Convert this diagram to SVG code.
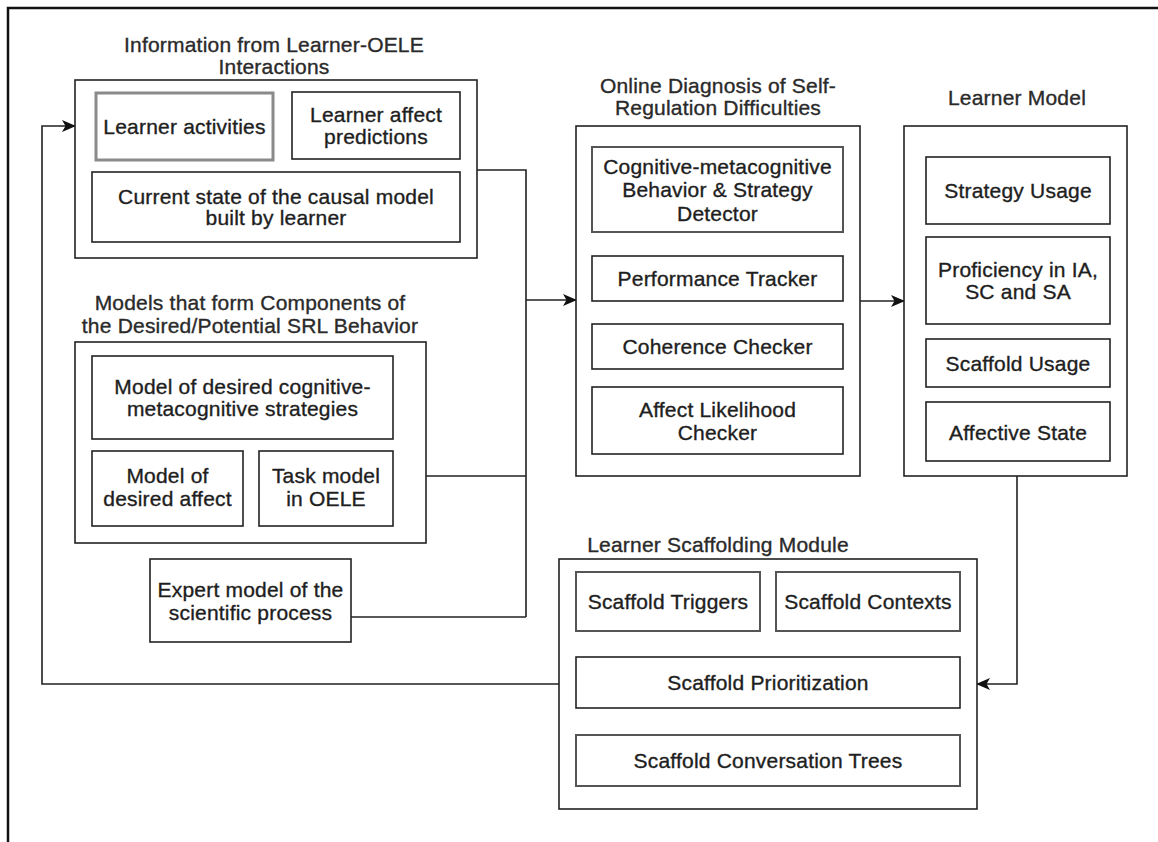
<svg xmlns="http://www.w3.org/2000/svg" width="1158" height="842" viewBox="0 0 1158 842">
  <defs>
    <marker id="arrow" viewBox="0 0 14 12" refX="13" refY="6" markerWidth="14" markerHeight="12" markerUnits="userSpaceOnUse" orient="auto">
      <path d="M0,0 L14,6 L0,12 L3.5,6 z" fill="#111"/>
    </marker>
    <style>
      .box { fill: #fff; stroke: #222; stroke-width: 1.6; }
      .grp { fill: #fff; stroke: #222; stroke-width: 1.6; }
      .soft { fill: #fff; stroke: #555; stroke-width: 2; }
      .gray { fill: #fff; stroke: #8a8a8a; stroke-width: 3; }
      .wire { fill: none; stroke: #222; stroke-width: 1.6; }
      text { font-family: "Liberation Sans", Arial, Helvetica, sans-serif; font-size: 21px; letter-spacing: 0.2px; fill: #1e1e1e; stroke: #1e1e1e; stroke-width: 0.35; text-anchor: middle; }
      .title { fill: #2a2a2a; stroke: #2a2a2a; }
    </style>
  </defs>

  <rect width="1158" height="842" fill="#fff"/>
  <!-- page frame, running off the right and bottom edges -->
  <rect x="8" y="8" width="1200" height="900" fill="none" stroke="#111" stroke-width="2.5"/>

  <!-- connectors -->
  <g id="connectors">
    <polyline class="wire" points="477,170 526,170 526,617"/>
    <line class="wire" x1="426" y1="476" x2="526" y2="476"/>
    <line class="wire" x1="351" y1="617" x2="526" y2="617"/>
    <line class="wire" x1="526" y1="300" x2="576" y2="300" marker-end="url(#arrow)"/>
    <line class="wire" x1="860" y1="301" x2="904" y2="301" marker-end="url(#arrow)"/>
    <polyline class="wire" points="1017,476 1017,684 977,684" marker-end="url(#arrow)"/>
    <polyline class="wire" points="559,684 42,684 42,126 75,126" marker-end="url(#arrow)"/>
  </g>

  <!-- information from learner-OELE interactions -->
  <g id="interactions">
    <text class="title" x="274" y="52">Information from Learner-OELE</text>
    <text class="title" x="274" y="74">Interactions</text>
    <rect class="grp" x="75" y="80" width="402" height="178"/>
    <g id="learner-activities">
      <rect class="gray" x="96" y="93" width="177" height="67"/>
      <text x="184.5" y="134">Learner activities</text>
    </g>
    <g id="learner-affect">
      <rect class="box" x="292" y="92" width="168" height="67"/>
      <text x="376" y="122">Learner affect</text>
      <text x="376" y="144">predictions</text>
    </g>
    <g id="causal-model">
      <rect class="box" x="92" y="172" width="368" height="70"/>
      <text x="276" y="204">Current state of the causal model</text>
      <text x="276" y="225">built by learner</text>
    </g>
  </g>

  <!-- desired / potential SRL behaviour models -->
  <g id="srl-models">
    <text class="title" x="250" y="310">Models that form Components of</text>
    <text class="title" x="250" y="333">the Desired/Potential SRL Behavior</text>
    <rect class="grp" x="75" y="342" width="351" height="201"/>
    <g id="strategy-model">
      <rect class="box" x="92" y="356" width="301" height="83"/>
      <text x="242.5" y="394">Model of desired cognitive-</text>
      <text x="242.5" y="416">metacognitive strategies</text>
    </g>
    <g id="affect-model">
      <rect class="box" x="92" y="451" width="151" height="75"/>
      <text x="167.5" y="483">Model of</text>
      <text x="167.5" y="506">desired affect</text>
    </g>
    <g id="task-model">
      <rect class="box" x="259" y="451" width="134" height="75"/>
      <text x="326" y="483">Task model</text>
      <text x="326" y="506">in OELE</text>
    </g>
  </g>

  <g id="expert-model">
    <rect class="box" x="150" y="559" width="201" height="83"/>
    <text x="250.5" y="597">Expert model of the</text>
    <text x="250.5" y="620">scientific process</text>
  </g>

  <!-- online diagnosis -->
  <g id="diagnosis">
    <text class="title" x="718" y="93">Online Diagnosis of Self-</text>
    <text class="title" x="718" y="115">Regulation Difficulties</text>
    <rect class="grp" x="576" y="126" width="284" height="350"/>
    <g id="behavior-detector">
      <rect class="soft" x="592" y="147" width="251" height="85"/>
      <text x="717.5" y="174">Cognitive-metacognitive</text>
      <text x="717.5" y="197">Behavior &amp; Strategy</text>
      <text x="717.5" y="221">Detector</text>
    </g>
    <g id="performance-tracker">
      <rect class="box" x="592" y="256" width="251" height="45"/>
      <text x="717.5" y="286">Performance Tracker</text>
    </g>
    <g id="coherence-checker">
      <rect class="box" x="592" y="324" width="251" height="45"/>
      <text x="717.5" y="354">Coherence Checker</text>
    </g>
    <g id="affect-checker">
      <rect class="box" x="592" y="387" width="251" height="67"/>
      <text x="717.5" y="417">Affect Likelihood</text>
      <text x="717.5" y="440">Checker</text>
    </g>
  </g>

  <!-- learner model -->
  <g id="learner-model">
    <text class="title" x="1017" y="105">Learner Model</text>
    <rect class="grp" x="904" y="126" width="223" height="350"/>
    <g id="strategy-usage">
      <rect class="box" x="926" y="157" width="184" height="67"/>
      <text x="1018" y="198">Strategy Usage</text>
    </g>
    <g id="proficiency">
      <rect class="box" x="926" y="237" width="184" height="87"/>
      <text x="1018" y="277">Proficiency in IA,</text>
      <text x="1018" y="299">SC and SA</text>
    </g>
    <g id="scaffold-usage">
      <rect class="box" x="926" y="339" width="184" height="48"/>
      <text x="1018" y="371">Scaffold Usage</text>
    </g>
    <g id="affective-state">
      <rect class="box" x="926" y="402" width="184" height="59"/>
      <text x="1018" y="440">Affective State</text>
    </g>
  </g>

  <!-- learner scaffolding module -->
  <g id="scaffolding">
    <text class="title" x="718" y="552">Learner Scaffolding Module</text>
    <rect class="grp" x="559" y="559" width="418" height="250"/>
    <g id="scaffold-triggers">
      <rect class="soft" x="576" y="572" width="184" height="59"/>
      <text x="668" y="609">Scaffold Triggers</text>
    </g>
    <g id="scaffold-contexts">
      <rect class="soft" x="776" y="572" width="184" height="59"/>
      <text x="868" y="609">Scaffold Contexts</text>
    </g>
    <g id="scaffold-prioritization">
      <rect class="box" x="576" y="657" width="384" height="51"/>
      <text x="768" y="690">Scaffold Prioritization</text>
    </g>
    <g id="conversation-trees">
      <rect class="soft" x="576" y="735" width="384" height="51"/>
      <text x="768" y="768">Scaffold Conversation Trees</text>
    </g>
  </g>
</svg>
